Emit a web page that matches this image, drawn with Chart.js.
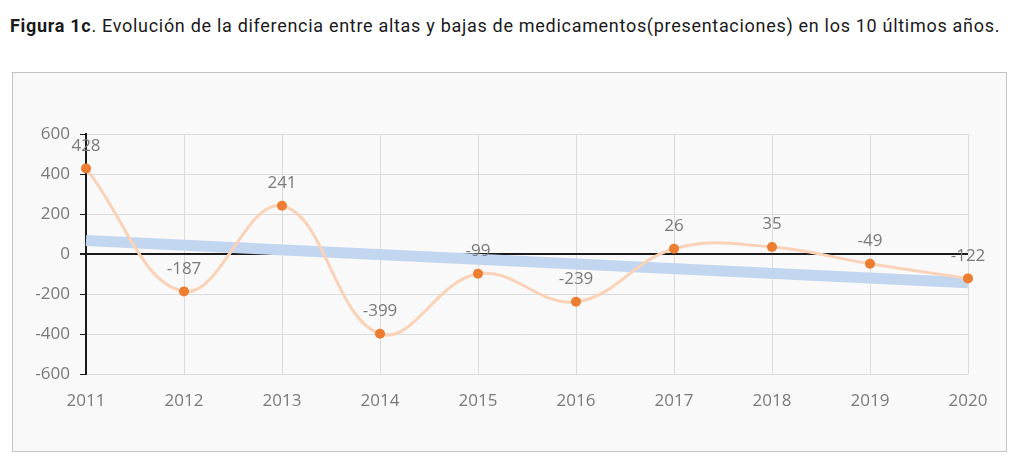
<!DOCTYPE html>
<html>
<head>
<meta charset="utf-8">
<script src="https://cdn.jsdelivr.net/npm/chart.js@4"></script>
<style>
  html, body { margin: 0; padding: 0; background: #fff; }
  body { width: 1024px; height: 471px; position: relative; overflow: hidden; }
  .title {
    position: absolute; left: 10px; top: 15px;
    font-family: "Roboto", sans-serif; font-size: 18px; color: #1a1a1a;
    letter-spacing: 0.7px; white-space: nowrap;
  }
  .title b { font-weight: 700; }
  .frame {
    position: absolute; left: 12px; top: 72px; width: 993px; height: 378px;
    border: 1px solid #c4c4c4; background: #f9f9f9;
  }
  #chart { position: absolute; left: 0; top: 0; }
</style>
</head>
<body>
<div class="title"><b>Figura 1c</b>. Evolución de la diferencia entre altas y bajas de medicamentos(presentaciones) en los 10 últimos años.</div>
<div class="frame"><canvas id="chart" width="993" height="378"></canvas></div>
<script>
const years = ["2011", "2012", "2013", "2014", "2015", "2016", "2017", "2018", "2019", "2020"];
const difference = [428, -187, 241, -399, -99, -239, 26, 35, -49, -122];
// trend line, read at both ends of the picture
const trend = [68, null, null, null, null, null, null, null, null, -144];
const yTicks = [-600, -400, -200, 0, 200, 400, 600];

const tickFont = { family: "Open Sans", size: 17 };
const grey = "#7a7a7a";

// value labels above the orange points
const pointLabels = {
  id: "pointLabels",
  afterDatasetsDraw(chart) {
    const ctx = chart.ctx;
    const meta = chart.getDatasetMeta(0);
    ctx.save();
    ctx.font = "17px 'Open Sans'";
    ctx.fillStyle = grey;
    ctx.textAlign = "center";
    ctx.textBaseline = "bottom";
    meta.data.forEach((pt, i) => {
      ctx.fillText(String(difference[i]), pt.x, pt.y - 14);
    });
    ctx.restore();
  },
};

const ctx = document.getElementById("chart");

new Chart(ctx, {
  type: "line",
  data: {
    labels: years,
    datasets: [
      {
        label: "Diferencia",
        data: difference,
        borderColor: "#f9d2b8",
        borderWidth: 3,
        tension: 0.4,
        pointRadius: 5,
        pointBackgroundColor: "#ed7d31",
        pointBorderWidth: 0,
        order: 1,
      },
      {
        label: "Tendencia",
        data: trend,
        spanGaps: true,
        borderColor: "#c3d6ef",
        borderWidth: 11,
        pointRadius: 0,
        borderCapStyle: "butt",
        order: 2,
      },
    ],
  },
  options: {
    responsive: false,
    animation: false,
    layout: { padding: { top: 61, right: 38, left: 0, bottom: 0 } },
    plugins: { legend: { display: false }, tooltip: { enabled: false } },
    scales: {
      x: {
        offset: false,
        grid: { color: "#dcdcdc", lineWidth: 1, drawTicks: false },
        border: { display: false },
        ticks: { color: grey, font: tickFont, padding: 17, maxRotation: 0 },
        afterFit: (s) => { s.height = 77; },
      },
      y: {
        min: -600,
        max: 600,
        afterBuildTicks: (s) => { s.ticks = yTicks.map((v) => ({ value: v })); },
        grid: {
          color: (c) => (c.tick && c.tick.value === 0 ? "#1a1a1a" : "#dcdcdc"),
          lineWidth: (c) => (c.tick && c.tick.value === 0 ? 2 : 1),
          tickColor: "#1a1a1a",
          tickLength: 6,
        },
        border: { color: "#1a1a1a", width: 2 },
        ticks: { color: grey, font: tickFont, padding: 10 },
        afterFit: (s) => { s.width = 73; },
      },
    },
  },
  plugins: [pointLabels],
});
</script>
</body>
</html>
